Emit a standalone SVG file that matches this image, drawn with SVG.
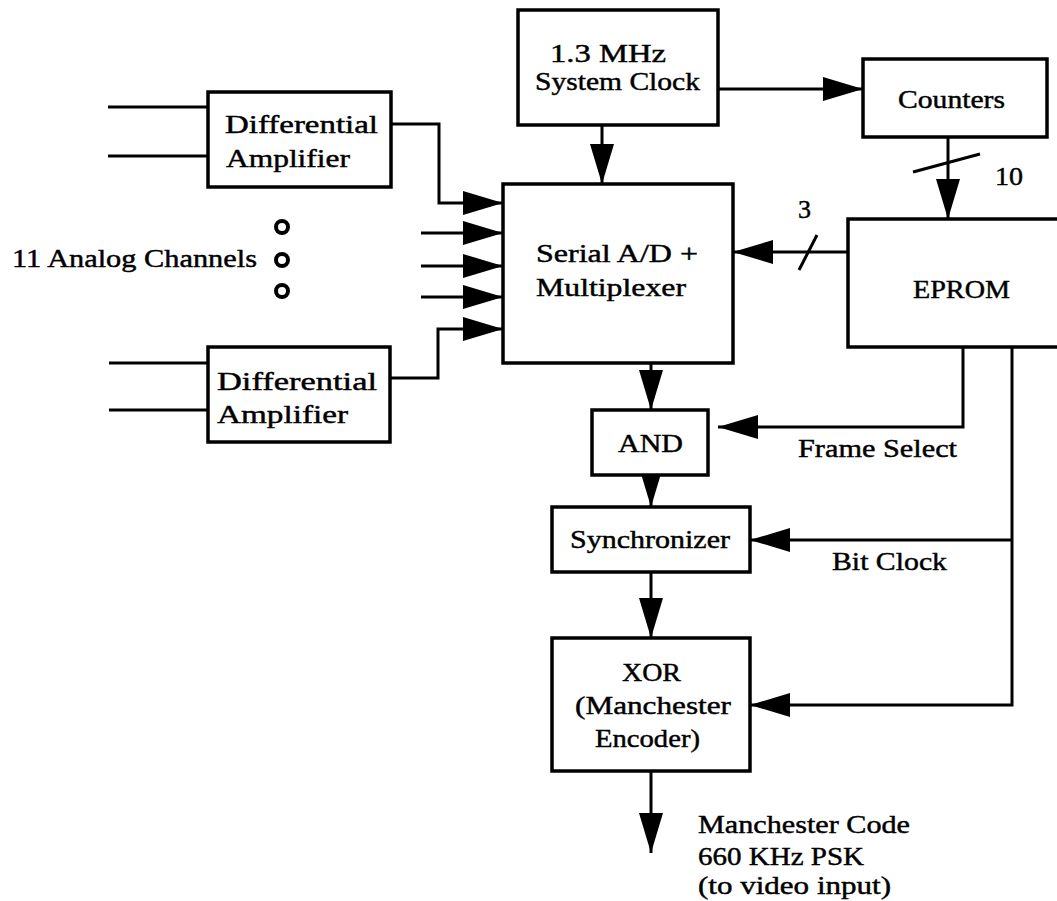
<svg xmlns="http://www.w3.org/2000/svg" width="1057" height="901" viewBox="0 0 1057 901">
<style>
.box{fill:#fff;stroke:#000;stroke-width:3.5}
.ln{fill:none;stroke:#000;stroke-width:3}
.arr{marker-end:url(#ah)}
.t{font-family:"Liberation Serif","Times New Roman",serif;font-size:26px;fill:#000;stroke:#000;stroke-width:0.45}
.dot{fill:none;stroke:#000;stroke-width:4}
</style>
<defs>
<marker id="ah" markerUnits="userSpaceOnUse" markerWidth="40" markerHeight="24" refX="40" refY="12" orient="auto">
<path d="M0,0 L40,12 L0,24 Z" fill="#000"/>
</marker>
</defs>
<rect width="1057" height="901" fill="#fff"/>
<g id="connectors">
<line class="ln" x1="108" y1="107" x2="208" y2="107"/>
<line class="ln" x1="108" y1="156" x2="208" y2="156"/>
<line class="ln" x1="109" y1="363" x2="208" y2="363"/>
<line class="ln" x1="109" y1="410" x2="208" y2="410"/>
<polyline class="ln arr" points="391,124 439,124 439,203 503,203"/>
<polyline class="ln arr" points="390,378 438,378 438,329 503,329"/>
<line class="ln arr" x1="421" y1="233" x2="503" y2="233"/>
<line class="ln arr" x1="421" y1="266" x2="503" y2="266"/>
<line class="ln arr" x1="421" y1="297" x2="503" y2="297"/>
<line class="ln arr" x1="602" y1="125" x2="602" y2="184"/>
<line class="ln arr" x1="718" y1="89" x2="863" y2="89"/>
<line class="ln arr" x1="948" y1="137" x2="948" y2="219"/>
<line class="ln" x1="913" y1="172" x2="980" y2="154" stroke-width="3.5"/>
<line class="ln arr" x1="848" y1="252" x2="733" y2="252"/>
<line class="ln" x1="799" y1="270" x2="817" y2="235" stroke-width="3.5"/>
<line class="ln arr" x1="651" y1="363" x2="651" y2="410"/>
<line class="ln arr" x1="651" y1="475" x2="651" y2="507"/>
<line class="ln arr" x1="651" y1="572" x2="651" y2="638"/>
<line class="ln arr" x1="651" y1="771" x2="651" y2="853"/>
<polyline class="ln arr" points="963,347 963,427 718,427"/>
<polyline class="ln arr" points="1012,347 1012,705 750,705"/>
<line class="ln arr" x1="1012" y1="540" x2="750" y2="540"/>
</g>
<g id="amp1">
<rect class="box" x="208" y="92" width="183" height="95"/>
<text class="t" x="225" y="133" textLength="153" lengthAdjust="spacingAndGlyphs">Differential</text>
<text class="t" x="226" y="167" textLength="124" lengthAdjust="spacingAndGlyphs">Amplifier</text>
</g>
<g id="amp2">
<rect class="box" x="208" y="347" width="182" height="95"/>
<text class="t" x="217" y="390" textLength="160" lengthAdjust="spacingAndGlyphs">Differential</text>
<text class="t" x="217" y="423" textLength="131" lengthAdjust="spacingAndGlyphs">Amplifier</text>
</g>
<g id="channels">
<text class="t" x="12" y="267" textLength="245" lengthAdjust="spacingAndGlyphs">11 Analog Channels</text>
<circle class="dot" cx="282" cy="227" r="6"/>
<circle class="dot" cx="282" cy="260" r="6"/>
<circle class="dot" cx="282" cy="291" r="6"/>
</g>
<g id="clock">
<rect class="box" x="518" y="10" width="200" height="115"/>
<text class="t" x="550" y="62" textLength="116" lengthAdjust="spacingAndGlyphs">1.3 MHz</text>
<text class="t" x="535" y="90" textLength="165" lengthAdjust="spacingAndGlyphs">System Clock</text>
</g>
<g id="counters">
<rect class="box" x="863" y="59" width="184" height="78"/>
<text class="t" x="898" y="108" textLength="107" lengthAdjust="spacingAndGlyphs">Counters</text>
</g>
<g id="adc">
<rect class="box" x="503" y="184" width="230" height="179"/>
<text class="t" x="536" y="262" textLength="162" lengthAdjust="spacingAndGlyphs">Serial A/D +</text>
<text class="t" x="536" y="296" textLength="150" lengthAdjust="spacingAndGlyphs">Multiplexer</text>
</g>
<g id="eprom">
<rect class="box" x="848" y="219" width="230" height="128"/>
<text class="t" x="913" y="298" textLength="97" lengthAdjust="spacingAndGlyphs">EPROM</text>
</g>
<g id="labels">
<text class="t" x="798" y="218">3</text>
<text class="t" x="995" y="185" textLength="28" lengthAdjust="spacingAndGlyphs">10</text>
<text class="t" x="798" y="457" textLength="159" lengthAdjust="spacingAndGlyphs">Frame Select</text>
<text class="t" x="832" y="570" textLength="115" lengthAdjust="spacingAndGlyphs">Bit Clock</text>
<text class="t" x="698" y="833" textLength="212" lengthAdjust="spacingAndGlyphs">Manchester Code</text>
<text class="t" x="698" y="865" textLength="166" lengthAdjust="spacingAndGlyphs">660 KHz PSK</text>
<text class="t" x="698" y="894" textLength="193" lengthAdjust="spacingAndGlyphs">(to video input)</text>
</g>
<g id="and">
<rect class="box" x="592" y="410" width="116" height="65"/>
<text class="t" x="618" y="452" textLength="65" lengthAdjust="spacingAndGlyphs">AND</text>
</g>
<g id="sync">
<rect class="box" x="552" y="507" width="198" height="65"/>
<text class="t" x="570" y="548" textLength="160" lengthAdjust="spacingAndGlyphs">Synchronizer</text>
</g>
<g id="xor">
<rect class="box" x="552" y="638" width="198" height="133"/>
<text class="t" x="622" y="681" textLength="59" lengthAdjust="spacingAndGlyphs">XOR</text>
<text class="t" x="575" y="714" textLength="156" lengthAdjust="spacingAndGlyphs">(Manchester</text>
<text class="t" x="595" y="747" textLength="105" lengthAdjust="spacingAndGlyphs">Encoder)</text>
</g>
</svg>
